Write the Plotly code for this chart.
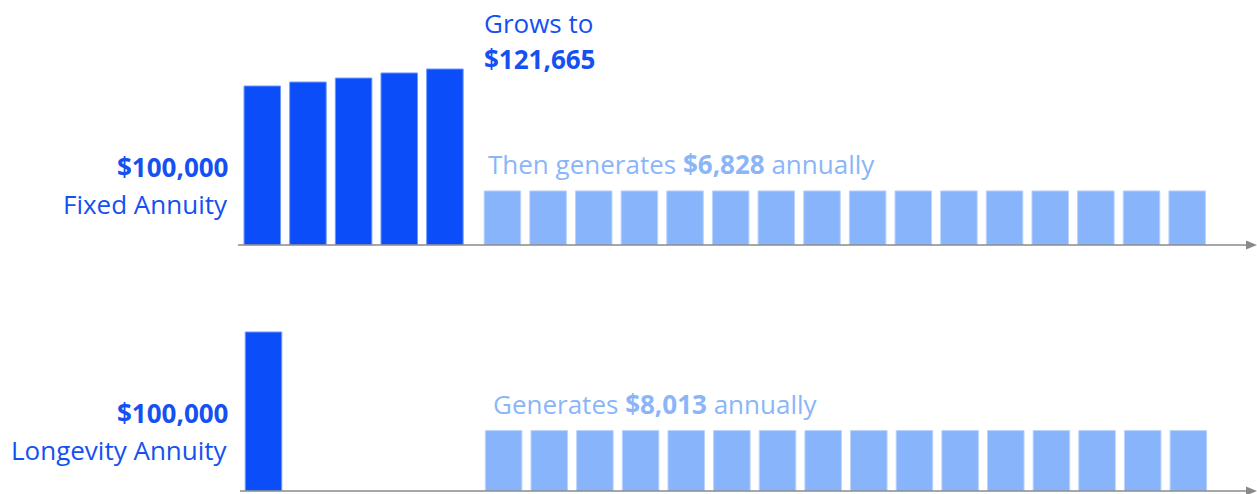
import plotly.graph_objects as go

# ---- data (relative bar heights) ----
growth_years = [1, 2, 3, 4, 5]
growth_values = [100, 102.5, 105, 108.2, 110.7]
fixed_payout_years = [6, 7, 8, 9, 10, 11, 12, 13, 14, 15, 16, 17, 18, 19, 20, 21]
fixed_payout_values = [34, 34, 34, 34, 34, 34, 34, 34, 34, 34, 34, 34, 34, 34, 34, 34]
longevity_premium_years = [1]
longevity_premium_values = [100]
longevity_payout_years = [6, 7, 8, 9, 10, 11, 12, 13, 14, 15, 16, 17, 18, 19, 20, 21]
longevity_payout_values = [38, 38, 38, 38, 38, 38, 38, 38, 38, 38, 38, 38, 38, 38, 38, 38]

W, H = 1257, 494
DARK = "#0B4DF8"
DARK_EDGE = "#6F98FB"
LIGHT = "#87B4FB"
LIGHT_EDGE = "#B9D3FC"
DARK_TXT = "#1550F2"
LIGHT_TXT = "#8AB6F9"
AXIS = "#8A8A8A"
FONT = "Open Sans"

BW = 0.8
PAY_SHIFT = 0.26

fig = go.Figure()
fig.add_trace(go.Bar(x=growth_years, y=growth_values, width=BW,
                     marker=dict(color=DARK, line=dict(color=DARK_EDGE, width=1)),
                     xaxis="x", yaxis="y", hoverinfo="skip"))
fig.add_trace(go.Bar(x=fixed_payout_years, y=fixed_payout_values, width=BW,
                     offset=-BW / 2 + PAY_SHIFT,
                     marker=dict(color=LIGHT, line=dict(color=LIGHT_EDGE, width=1)),
                     xaxis="x", yaxis="y", hoverinfo="skip"))
fig.add_trace(go.Bar(x=longevity_premium_years, y=longevity_premium_values, width=BW,
                     marker=dict(color=DARK, line=dict(color=DARK_EDGE, width=1)),
                     xaxis="x2", yaxis="y2", hoverinfo="skip"))
fig.add_trace(go.Bar(x=longevity_payout_years, y=longevity_payout_values, width=BW,
                     offset=-BW / 2 + PAY_SHIFT,
                     marker=dict(color=LIGHT, line=dict(color=LIGHT_EDGE, width=1)),
                     xaxis="x2", yaxis="y2", hoverinfo="skip"))

PITCH = 45.65
def xr(center_px):
    return [1 - center_px / PITCH, 1 + (W - center_px) / PITCH]

YMAX = 154.1
hidden = dict(showgrid=False, zeroline=False, showticklabels=False, showline=False, ticks="")
fig.update_layout(
    width=W, height=H, margin=dict(l=0, r=0, t=0, b=0),
    paper_bgcolor="white", plot_bgcolor="white", showlegend=False,
    barmode="overlay",
    xaxis=dict(range=xr(262.3), domain=[0, 1], anchor="y", **hidden),
    yaxis=dict(range=[0, YMAX], domain=[249 / H, 1], anchor="x", **hidden),
    xaxis2=dict(range=xr(263.5), domain=[0, 1], anchor="y2", **hidden),
    yaxis2=dict(range=[0, YMAX], domain=[3 / H, 248 / H], anchor="x2", **hidden),
    font=dict(family=FONT),
)

def px(x):
    return x / W
def py(y):
    return 1 - y / H

shapes = []
for y0, x0 in [(245, 238), (491, 240)]:
    shapes.append(dict(type="line", xref="paper", yref="paper",
                       x0=px(x0), x1=px(1249), y0=py(y0), y1=py(y0),
                       line=dict(color=AXIS, width=1.5)))
    shapes.append(dict(type="path", xref="paper", yref="paper",
                       path=f"M {px(1246)},{py(y0-4.5)} L {px(1257)},{py(y0)} L {px(1246)},{py(y0+4.5)} Z",
                       fillcolor=AXIS, line=dict(width=0)))
fig.update_layout(shapes=shapes)

def ann(text, x, y, color, xanchor="left", size=26):
    fig.add_annotation(text=text, xref="paper", yref="paper", x=px(x), y=py(y),
                       xanchor=xanchor, yanchor="middle", showarrow=False,
                       font=dict(family=FONT, size=size, color=color))

ann("Grows to", 482, 23, DARK_TXT)
ann("<b>$121,665</b>", 482, 59, DARK_TXT)
ann("<b>$100,000</b>", 230, 167, DARK_TXT, "right")
ann("Fixed Annuity", 230, 204, DARK_TXT, "right")
ann("Then generates <b>$6,828</b> annually", 486, 164, LIGHT_TXT)
ann("<b>$100,000</b>", 230, 413, DARK_TXT, "right")
ann("Longevity Annuity", 230, 450, DARK_TXT, "right")
ann("Generates <b>$8,013</b> annually", 491, 404, LIGHT_TXT)

fig.write_html("out.html")
